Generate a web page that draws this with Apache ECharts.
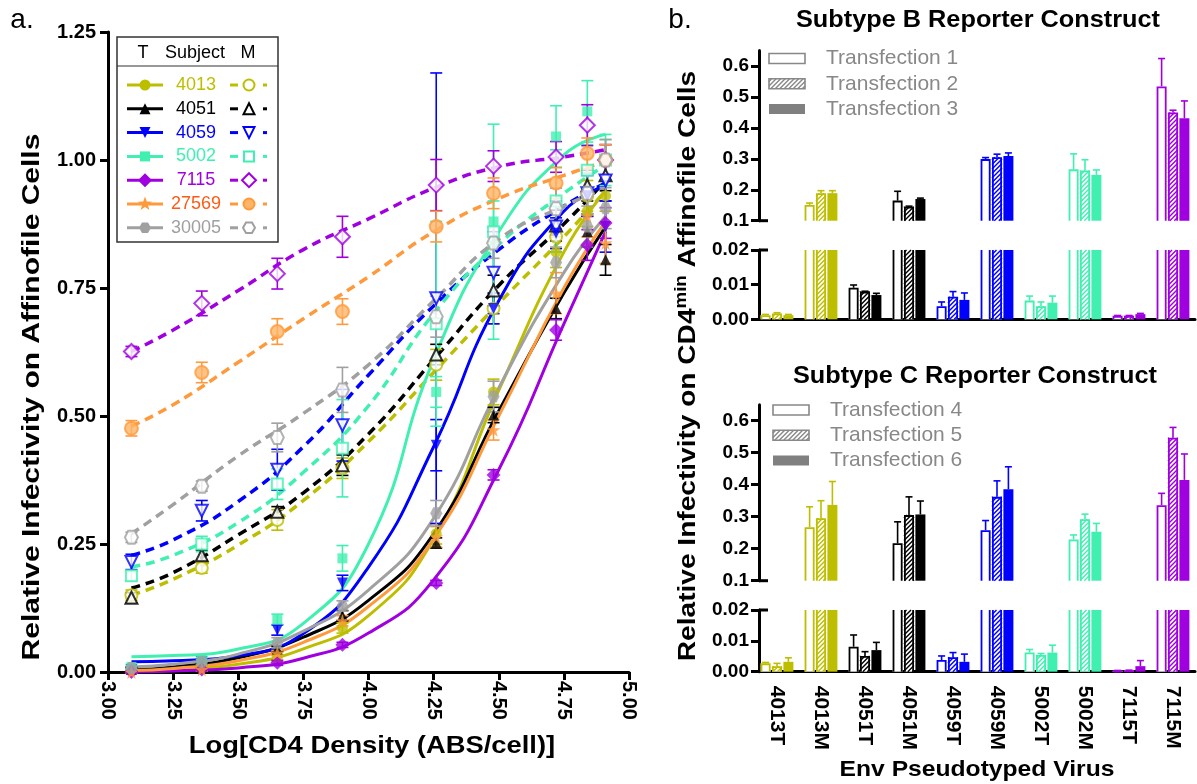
<!DOCTYPE html>
<html><head><meta charset="utf-8">
<script src="https://cdn.jsdelivr.net/npm/echarts@6/dist/echarts.min.js"></script>
<style>html,body{margin:0;padding:0;background:#fff}#c{width:1197px;height:784px}</style>
</head><body><div id="c"></div>
<script>
const FONT = '"Liberation Sans", Arial, sans-serif';
// ---------- Panel a data ----------
const densityX = [3.09, 3.36, 3.65, 3.90, 4.26, 4.48, 4.72, 4.84, 4.91];
const curveX   = [3.09, 3.25, 3.50, 3.75, 4.00, 4.25, 4.50, 4.75, 4.91];
const xTicks = [3.00, 3.25, 3.50, 3.75, 4.00, 4.25, 4.50, 4.75, 5.00];
const yTicks = [0.00, 0.25, 0.50, 0.75, 1.00, 1.25];

const t4013  = [0.005, 0.010, 0.030, 0.086, 0.270, 0.547, 0.820, 0.900, 0.930];
const t4051  = [0.005, 0.012, 0.045, 0.110, 0.252, 0.502, 0.710, 0.860, 0.805];
const t4059  = [0.005, 0.020, 0.082, 0.174, 0.443, 0.710, 0.857, 0.930, 0.870];
const t5002  = [0.010, 0.025, 0.103, 0.222, 0.547, 0.880, 1.046, 1.095, 1.000];
const t7115  = [0.000, 0.005, 0.018, 0.053, 0.174, 0.385, 0.668, 0.834, 0.877];
const t27569 = [0.000, 0.005, 0.037, 0.100, 0.264, 0.473, 0.740, 0.890, 0.838];
const t30005 = [0.008, 0.020, 0.057, 0.129, 0.310, 0.538, 0.800, 0.870, 0.906];

const m4013  = [0.150, 0.203, 0.297, 0.398, 0.600, 0.710, 0.850, 0.930, 1.000];
const m4051  = [0.145, 0.228, 0.313, 0.404, 0.620, 0.745, 0.872, 0.950, 0.970];
const m4059  = [0.215, 0.315, 0.395, 0.482, 0.730, 0.780, 0.870, 0.935, 0.960];
const m5002  = [0.188, 0.250, 0.367, 0.437, 0.680, 0.860, 0.920, 0.980, 1.000];
const m7115  = [0.626, 0.720, 0.778, 0.850, 0.951, 0.988, 1.006, 1.068, 1.000];
const m27569 = [0.476, 0.585, 0.665, 0.704, 0.870, 0.935, 0.955, 1.013, 1.000];
const m30005 = [0.263, 0.363, 0.458, 0.551, 0.694, 0.838, 0.905, 0.935, 1.000];

const t4013Err  = [0.005, 0.005, 0.010, 0.010, 0.020, 0.025, 0.030, 0.030, 0.030];
const t4051Err  = [0.003, 0.005, 0.005, 0.010, 0.010, 0.015, 0.020, 0.030, 0.030];
const t4059Err  = [0.005, 0.005, 0.010, 0.015, 0.050, 0.030, 0.030, 0.040, 0.050];
const t5002Err  = [0.005, 0.005, 0.010, 0.025, 0.030, 0.040, 0.060, 0.060, 0.050];
const t7115Err  = [0.002, 0.002, 0.005, 0.005, 0.005, 0.010, 0.020, 0.030, 0.030];
const t27569Err = [0.002, 0.003, 0.005, 0.010, 0.020, 0.020, 0.040, 0.040, 0.040];
const t30005Err = [0.003, 0.005, 0.010, 0.010, 0.025, 0.030, 0.030, 0.040, 0.040];
const m4013Err  = [0.010, 0.010, 0.020, 0.020, 0.030, 0.030, 0.030, 0.030, 0.030];
const m4051Err  = [0.010, 0.010, 0.010, 0.020, 0.020, 0.030, 0.030, 0.030, 0.030];
const m4059Err  = [0.015, 0.020, 0.040, 0.070, 0.440, 0.080, 0.050, 0.040, 0.040];
const m5002Err  = [0.010, 0.015, 0.030, 0.095, 0.200, 0.210, 0.100, 0.050, 0.040];
const m7115Err  = [0.010, 0.024, 0.030, 0.040, 0.050, 0.030, 0.030, 0.040, 0.030];
const m27569Err = [0.015, 0.020, 0.025, 0.025, 0.030, 0.030, 0.030, 0.030, 0.030];
const m30005Err = [0.010, 0.010, 0.028, 0.044, 0.040, 0.030, 0.040, 0.040, 0.040];

// fitted curves read at curveX
const t4013Fit  = [0.002, 0.005, 0.015, 0.045, 0.110, 0.260, 0.550, 0.820, 0.940];
const t4051Fit  = [0.005, 0.010, 0.028, 0.068, 0.140, 0.270, 0.510, 0.740, 0.870];
const t4059Fit  = [0.020, 0.022, 0.032, 0.075, 0.205, 0.440, 0.725, 0.900, 0.950];
const t5002Fit  = [0.030, 0.032, 0.045, 0.095, 0.250, 0.610, 0.860, 1.010, 1.050];
const t7115Fit  = [0.000, 0.002, 0.008, 0.027, 0.076, 0.180, 0.395, 0.680, 0.860];
const t27569Fit = [0.003, 0.007, 0.022, 0.058, 0.128, 0.260, 0.500, 0.750, 0.880];
const t30005Fit = [0.010, 0.015, 0.035, 0.080, 0.160, 0.300, 0.555, 0.780, 0.890];

const m4013Fit  = [0.150, 0.181, 0.248, 0.335, 0.450, 0.585, 0.720, 0.850, 0.940];
const m4051Fit  = [0.164, 0.194, 0.268, 0.350, 0.465, 0.610, 0.755, 0.875, 0.960];
const m4059Fit  = [0.228, 0.258, 0.333, 0.440, 0.580, 0.715, 0.825, 0.910, 0.955];
const m5002Fit  = [0.205, 0.228, 0.292, 0.390, 0.520, 0.700, 0.835, 0.935, 0.990];
const m7115Fit  = [0.626, 0.668, 0.745, 0.825, 0.885, 0.945, 0.987, 1.006, 1.020];
const m27569Fit = [0.480, 0.522, 0.605, 0.690, 0.772, 0.860, 0.925, 0.970, 0.997];
const m30005Fit = [0.270, 0.327, 0.422, 0.505, 0.600, 0.725, 0.845, 0.910, 0.945];

// ---------- Panel b data ----------
const virusCats = ['4013T','4013M','4051T','4051M','4059T','4059M','5002T','5002M','7115T','7115M'];
const bTrans1 = [0.0012, 0.151, 0.0091, 0.165, 0.0038, 0.299, 0.0054, 0.266, 0.0010, 0.534];
const bTrans1Err = [0.0002, 0.006, 0.0008, 0.030, 0.0012, 0.005, 0.0013, 0.050, 0.0001, 0.090];
const bTrans2 = [0.0017, 0.189, 0.0080, 0.145, 0.0065, 0.305, 0.0038, 0.262, 0.0010, 0.450];
const bTrans2Err = [0.0002, 0.008, 0.0001, 0.002, 0.0015, 0.010, 0.0012, 0.035, 0.0001, 0.007];
const bTrans3 = [0.0012, 0.189, 0.0070, 0.170, 0.0056, 0.309, 0.0048, 0.248, 0.0015, 0.431];
const bTrans3Err = [0.0002, 0.008, 0.0005, 0.003, 0.0020, 0.010, 0.0019, 0.016, 0.0002, 0.056];
const cTrans4 = [0.0027, 0.267, 0.0081, 0.217, 0.0038, 0.258, 0.0062, 0.229, 0.0003, 0.336];
const cTrans4Err = [0.0003, 0.064, 0.0038, 0.067, 0.0013, 0.030, 0.0010, 0.014, 0.0001, 0.037];
const cTrans5 = [0.0018, 0.295, 0.0051, 0.305, 0.0047, 0.362, 0.0054, 0.292, 0.0004, 0.547];
const cTrans5Err = [0.0009, 0.055, 0.0014, 0.057, 0.0015, 0.050, 0.0005, 0.016, 0.0001, 0.032];
const cTrans6 = [0.0032, 0.337, 0.0070, 0.307, 0.0032, 0.386, 0.0062, 0.253, 0.0018, 0.415];
const cTrans6Err = [0.0013, 0.073, 0.0025, 0.042, 0.0025, 0.070, 0.0024, 0.026, 0.0018, 0.081];
const upperTicks = [0.1, 0.2, 0.3, 0.4, 0.5, 0.6];

// ---------- styles ----------
const OLIVE = '#BEBE00', BLACK = '#000000', BLUE = '#0000FF', AQUA = '#40F0B0',
      PURPLE = '#A000E0', ORANGE = '#FF9A3C', GRAY = '#A0A0A0';
const STAR = 'path://M50,0 L61,35 L98,35 L68,57 L79,91 L50,70 L21,91 L32,57 L2,35 L39,35 Z';
const HEX = 'path://M25,0 L75,0 L100,50 L75,100 L25,100 L0,50 Z';
const subjects = [
  {name:'4013',  color:OLIVE,  text:OLIVE,     sym:'circle',   rot:0,   size:11, t:t4013, m:m4013, te:t4013Err, me:m4013Err, tf:t4013Fit, mf:m4013Fit},
  {name:'4051',  color:BLACK,  text:BLACK,     sym:'triangle', rot:0,   size:11, t:t4051, m:m4051, te:t4051Err, me:m4051Err, tf:t4051Fit, mf:m4051Fit},
  {name:'4059',  color:BLUE,   text:BLUE,      sym:'triangle', rot:180, size:11, t:t4059, m:m4059, te:t4059Err, me:m4059Err, tf:t4059Fit, mf:m4059Fit},
  {name:'5002',  color:AQUA,   text:AQUA,      sym:'rect',     rot:0,   size:10, t:t5002, m:m5002, te:t5002Err, me:m5002Err, tf:t5002Fit, mf:m5002Fit},
  {name:'7115',  color:PURPLE, text:PURPLE,    sym:'diamond',  rot:0,   size:14, t:t7115, m:m7115, te:t7115Err, me:m7115Err, tf:t7115Fit, mf:m7115Fit},
  {name:'27569', color:ORANGE, text:'#FF5A14', sym:STAR,       rot:0,   size:14, t:t27569, m:m27569, te:t27569Err, me:m27569Err, tf:t27569Fit, mf:m27569Fit, msym:'circle'},
  {name:'30005', color:GRAY,   text:GRAY,      sym:HEX,        rot:0,   size:12, t:t30005, m:m30005, te:t30005Err, me:m30005Err, tf:t30005Fit, mf:m30005Fit}
];
const catColors = [OLIVE, OLIVE, BLACK, BLACK, BLUE, BLUE, AQUA, AQUA, PURPLE, PURPLE];
const ORANGE_OPEN_FILL = '#FFB468';

// ---------- series: panel a ----------
const series = [];
function errSeries(vals, errs, color) {
  return {
    type:'custom', xAxisIndex:0, yAxisIndex:0, z:3, silent:true,
    data: densityX.map((x,i)=>[x, vals[i], errs[i]]),
    renderItem(params, api){
      const x=api.value(0), y=api.value(1), e=api.value(2);
      const p0=api.coord([x,y-e]), p1=api.coord([x,y+e]);
      const cw=6, st={stroke:color, lineWidth:1.6};
      return {type:'group', children:[
        {type:'line', shape:{x1:p0[0],y1:p0[1],x2:p1[0],y2:p1[1]}, style:st},
        {type:'line', shape:{x1:p0[0]-cw,y1:p0[1],x2:p0[0]+cw,y2:p0[1]}, style:st},
        {type:'line', shape:{x1:p1[0]-cw,y1:p1[1],x2:p1[0]+cw,y2:p1[1]}, style:st}
      ]};
    }
  };
}
subjects.forEach(s=>{
  series.push({type:'line', xAxisIndex:0, yAxisIndex:0, z:2, silent:true, showSymbol:false,
    smooth:0.5,
    data: curveX.map((x,i)=>[x, s.mf[i]]), lineStyle:{color:s.color, width:3.5, type:[9,6]}});
  series.push({type:'line', xAxisIndex:0, yAxisIndex:0, z:2, silent:true, showSymbol:false,
    smooth:0.5,
    data: curveX.map((x,i)=>[x, s.tf[i]]), lineStyle:{color:s.color, width:3}});
  series.push(errSeries(s.m, s.me, s.color));
  series.push(errSeries(s.t, s.te, s.color));
});
subjects.forEach(s=>{
  series.push({type:'scatter', xAxisIndex:0, yAxisIndex:0, z:5, silent:true,
    symbol: s.msym || s.sym, symbolRotate:s.rot, symbolSize: s.msym ? 13 : s.size + 1,
    data: densityX.map((x,i)=>[x, s.m[i]]),
    itemStyle:{color: s.msym ? ORANGE_OPEN_FILL : '#fff', borderColor:s.color, borderWidth:2}});
  series.push({type:'scatter', xAxisIndex:0, yAxisIndex:0, z:5, silent:true,
    symbol:s.sym, symbolRotate:s.rot, symbolSize:s.size,
    data: densityX.map((x,i)=>[x, s.t[i]]),
    itemStyle:{color:s.color}});
});

// ---------- series: panel b bars ----------
function hatch(x0,y0,x1,y1,step,color,lw){
  const out=[];
  let c=Math.ceil((x0+y0)/step)*step;
  for(; c<x1+y1; c+=step){
    const xa=Math.max(x0,c-y1), xb=Math.min(x1,c-y0);
    if(xb>xa) out.push({type:'line', shape:{x1:xa,y1:c-xa,x2:xb,y2:c-xb}, style:{stroke:color,lineWidth:lw}});
  }
  return out;
}
function barSeries(axisIdx, vals, errs, kind, offset){
  return {
    type:'custom', xAxisIndex:axisIdx, yAxisIndex:axisIdx, z:3, silent:true,
    data: vals.map((v,i)=>[i, v, errs[i]]),
    renderItem(params, api){
      const cs=params.coordSys;
      const ci=api.value(0), v=api.value(1), e=api.value(2);
      const color=catColors[ci];
      const c=api.coord([ci, v]);
      const base=api.coord([ci, 0]);
      const cx=c[0]+offset, hw=5;
      const gTop=cs.y, gBot=cs.y+cs.height;
      const topVisible = c[1] >= gTop;
      const yTop=Math.max(c[1], gTop), yBot=Math.min(base[1], gBot);
      if (yTop >= yBot - 0.5) return null;
      const x0=cx-hw, x1=cx+hw;
      const ch=[];
      if (kind==='filled') {
        ch.push({type:'rect', shape:{x:x0, y:yTop, width:x1-x0, height:yBot-yTop}, style:{fill:color}});
      } else {
        ch.push({type:'rect', shape:{x:x0, y:yTop, width:x1-x0, height:yBot-yTop}, style:{fill:'#fff'}});
        if (kind==='hatch') hatch(x0,yTop,x1,yBot,4.5,color,1.4).forEach(l=>ch.push(l));
        const ls={stroke:color, lineWidth:1.8, fill:null};
        if (topVisible) {
          ch.push({type:'polyline', shape:{points:[[x0+0.9,yBot],[x0+0.9,yTop+0.9],[x1-0.9,yTop+0.9],[x1-0.9,yBot]]}, style:ls});
        } else {
          ch.push({type:'line', shape:{x1:x0+0.9,y1:yBot,x2:x0+0.9,y2:yTop}, style:ls});
          ch.push({type:'line', shape:{x1:x1-0.9,y1:yBot,x2:x1-0.9,y2:yTop}, style:ls});
        }
      }
      if (topVisible && e > 0) {
        const pe=api.coord([ci, v+e]);
        const st={stroke:color, lineWidth:1.6};
        ch.push({type:'line', shape:{x1:cx,y1:yTop,x2:cx,y2:pe[1]}, style:st});
        ch.push({type:'line', shape:{x1:cx-3.5,y1:pe[1],x2:cx+3.5,y2:pe[1]}, style:st});
      }
      return {type:'group', children:ch};
    }
  };
}
const OFF=11.4;
[[1,2,bTrans1,bTrans1Err,bTrans2,bTrans2Err,bTrans3,bTrans3Err],[3,4,cTrans4,cTrans4Err,cTrans5,cTrans5Err,cTrans6,cTrans6Err]].forEach(g=>{
  [g[0],g[1]].forEach(ax=>{
    series.push(barSeries(ax, g[2], g[3], 'open', -OFF));
    series.push(barSeries(ax, g[4], g[5], 'hatch', 0));
    series.push(barSeries(ax, g[6], g[7], 'filled', OFF));
  });
});

// ---------- axes ----------
const axisLineStyle = {lineStyle:{color:'#000', width:3}};
const tickStyle = {lineStyle:{color:'#000', width:3}};
const labelBold = (size)=>({color:'#000', fontFamily:FONT, fontWeight:'bold', fontSize:size});
const grids = [
  {left:108, top:32, width:521, height:640},
  {left:755, top:50.5, width:440, height:170.2},
  {left:755, top:250, width:440, height:69.3},
  {left:755, top:404.7, width:440, height:176},
  {left:755, top:610, width:440, height:61.7}
];
const xAxes = [
  {type:'value', gridIndex:0, min:3, max:5, interval:0.25,
   axisLine:axisLineStyle, axisTick:{length:8, ...tickStyle}, splitLine:{show:false},
   axisLabel:{...labelBold(20), rotate:-90, margin:9, formatter:v=>v.toFixed(2), customValues:xTicks}},
  {type:'category', gridIndex:1, data:virusCats, show:false},
  {type:'category', gridIndex:2, data:virusCats, axisLine:axisLineStyle, axisTick:{show:false}, axisLabel:{show:false}},
  {type:'category', gridIndex:3, data:virusCats, show:false},
  {type:'category', gridIndex:4, data:virusCats, axisLine:axisLineStyle,
   axisTick:{alignWithLabel:true, length:10, lineStyle:{color:'#000', width:2.5}},
   axisLabel:{...labelBold(21), rotate:-90, margin:14}}
];
function upperY(idx){
  return {type:'value', gridIndex:idx, min:0.1, max:0.65, offset:-4,
    axisLine:{show:true, ...axisLineStyle}, axisTick:{show:true, length:8, customValues:upperTicks, ...tickStyle},
    splitLine:{show:false},
    axisLabel:{...labelBold(19), margin:10, customValues:upperTicks, formatter:v=>v.toFixed(1)}};
}
function lowerY(idx){
  return {type:'value', gridIndex:idx, min:0, max:0.02, interval:0.01, offset:-4,
    axisLine:{show:true, ...axisLineStyle}, axisTick:{show:true, length:8, ...tickStyle},
    splitLine:{show:false},
    axisLabel:{...labelBold(19), margin:10, formatter:v=>v.toFixed(2)}};
}
const yAxes = [
  {type:'value', gridIndex:0, min:0, max:1.25, interval:0.25,
   axisLine:{show:true, ...axisLineStyle}, axisTick:{show:true, length:8, ...tickStyle}, splitLine:{show:false},
   axisLabel:{...labelBold(20), margin:12, formatter:v=>v.toFixed(2), customValues:yTicks}},
  upperY(1), lowerY(2), upperY(3), lowerY(4)
];

// ---------- graphics: legends & titles ----------
const graphic = [];
function txt(x,y,text,font,color,align,rot,sx){
  graphic.push({type:'text', x, y, rotation:rot||0, scaleX:sx||1, silent:true,
    style:{text, font, fill:color||'#000', align:align||'center', verticalAlign:'middle'}});
}
txt(22, 20, 'a.', '28px '+FONT, '#000', 'center');
txt(680, 20, 'b.', '28px '+FONT, '#000', 'center');
txt(32, 397, 'Relative Infectivity on Affinofile Cells', 'bold 24px '+FONT, '#000', 'center', Math.PI/2, 1.25);
txt(372, 746, 'Log[CD4 Density (ABS/cell)]', 'bold 24px '+FONT, '#000', 'center', 0, 1.14);
txt(978, 21, 'Subtype B Reporter Construct', 'bold 23px '+FONT, '#000', 'center', 0, 1.1);
txt(975, 377, 'Subtype C Reporter Construct', 'bold 23px '+FONT, '#000', 'center', 0, 1.1);
txt(977, 770, 'Env Pseudotyped Virus', 'bold 22px '+FONT, '#000', 'center', 0, 1.12);
graphic.push({type:'text', x:688, y:366, rotation:Math.PI/2, scaleX:1.17, silent:true,
  style:{text:'{a|Relative Infectivity on CD4}{s|min}{a| Affinofile Cells}', align:'center', verticalAlign:'middle',
    rich:{a:{font:'bold 24px '+FONT, fill:'#000', lineHeight:28},
          s:{font:'bold 16px '+FONT, fill:'#000', lineHeight:28, verticalAlign:'top', padding:[0,0,10,0]}}}});

// panel a legend box
graphic.push({type:'rect', shape:{x:117, y:37, width:161, height:205}, style:{fill:'#fff', stroke:'#333', lineWidth:1.5}, z:10, silent:true});
graphic.push({type:'line', shape:{x1:117, y1:66, x2:278, y2:66}, style:{stroke:'#333', lineWidth:1.2}, z:11, silent:true});
function legendText(x,y,text,color){
  graphic.push({type:'text', x, y, z:11, silent:true, style:{text, font:'18px '+FONT, fill:color, align:'center', verticalAlign:'middle'}});
}
legendText(143, 53, 'T', '#000'); legendText(195, 53, 'Subject', '#000'); legendText(248, 53, 'M', '#000');
function markerShape(s, cx, cy, open){
  const r = 5.5;
  const fill = open ? (s.msym ? ORANGE_OPEN_FILL : '#fff') : s.color;
  const st = open ? {fill, stroke:s.color, lineWidth:2} : {fill};
  const sym = open && s.msym ? s.msym : s.sym;
  if (sym==='circle') return {type:'circle', shape:{cx, cy, r}, style:st};
  if (sym==='rect') return {type:'rect', shape:{x:cx-r+0.5, y:cy-r+0.5, width:2*r-1, height:2*r-1}, style:st};
  if (sym==='diamond') return {type:'polygon', shape:{points:[[cx,cy-7],[cx+7,cy],[cx,cy+7],[cx-7,cy]]}, style:st};
  if (sym==='triangle' && s.rot===180) return {type:'polygon', shape:{points:[[cx-r,cy-r],[cx+r,cy-r],[cx,cy+r]]}, style:st};
  if (sym==='triangle') return {type:'polygon', shape:{points:[[cx,cy-r],[cx+r,cy+r],[cx-r,cy+r]]}, style:st};
  if (sym===STAR) {
    const pts=[]; for(let k=0;k<10;k++){const a=-Math.PI/2+k*Math.PI/5, rr=k%2?3:7.5; pts.push([cx+rr*Math.cos(a), cy+rr*Math.sin(a)]);}
    return {type:'polygon', shape:{points:pts}, style:st};
  }
  const pts=[]; for(let k=0;k<6;k++){const a=k*Math.PI/3; pts.push([cx+6*Math.cos(a), cy+6*Math.sin(a)]);}
  return {type:'polygon', shape:{points:pts}, style:st};
}
subjects.forEach((s,i)=>{
  const y = 85 + i*23.8;
  graphic.push({type:'line', z:11, silent:true, shape:{x1:127, y1:y, x2:163, y2:y}, style:{stroke:s.color, lineWidth:3}});
  graphic.push(Object.assign(markerShape(s, 145, y, false), {z:12, silent:true}));
  legendText(196, y, s.name, s.text);
  graphic.push({type:'line', z:11, silent:true, shape:{x1:230, y1:y, x2:238, y2:y}, style:{stroke:s.color, lineWidth:3}});
  graphic.push({type:'line', z:11, silent:true, shape:{x1:263, y1:y, x2:267, y2:y}, style:{stroke:s.color, lineWidth:3}});
  graphic.push(Object.assign(markerShape(s, 249, y, true), {z:12, silent:true}));
});

// panel b legends
function barLegend(x, y0, labels){
  labels.forEach((lab,i)=>{
    const y = y0 + i*25.3;
    const rx=x, ry=y-5, rw=36, rh=10;
    if (i===0) graphic.push({type:'rect', silent:true, shape:{x:rx, y:ry, width:rw, height:rh}, style:{fill:'#fff', stroke:'#888', lineWidth:1.6}});
    if (i===1) {
      graphic.push({type:'rect', silent:true, shape:{x:rx, y:ry, width:rw, height:rh}, style:{fill:'#fff'}});
      hatch(rx,ry,rx+rw,ry+rh,4.5,'#888',1.4).forEach(l=>{l.silent=true; graphic.push(l);});
      graphic.push({type:'rect', silent:true, shape:{x:rx, y:ry, width:rw, height:rh}, style:{fill:null, stroke:'#888', lineWidth:1.6}});
    }
    if (i===2) graphic.push({type:'rect', silent:true, shape:{x:rx, y:ry, width:rw, height:rh}, style:{fill:'#808080'}});
    graphic.push({type:'text', x:x+57, y, silent:true, style:{text:lab, font:'21px '+FONT, fill:'#888', align:'left', verticalAlign:'middle'}});
  });
}
barLegend(769, 58.5, ['Transfection 1','Transfection 2','Transfection 3']);
barLegend(773, 410, ['Transfection 4','Transfection 5','Transfection 6']);

const chart = echarts.init(document.getElementById('c'));
chart.setOption({
  animation:false,
  backgroundColor:'#fff',
  textStyle:{fontFamily:FONT},
  grid:grids, xAxis:xAxes, yAxis:yAxes, series, graphic
});

// axis-break marks: extend the end ticks of each broken y-axis segment to the right
const breakMarks = [[1, 0.1], [2, 0.02], [3, 0.1], [4, 0.02]];
const extra = breakMarks.map(([ai, v])=>{
  const y = chart.convertToPixel({yAxisIndex:ai}, v);
  const x = grids[ai].left + 4;
  return {type:'line', silent:true, z:20, shape:{x1:x, y1:y, x2:x+9, y2:y}, style:{stroke:'#000', lineWidth:3}};
});
chart.setOption({graphic: graphic.concat(extra)});
</script></body></html>
